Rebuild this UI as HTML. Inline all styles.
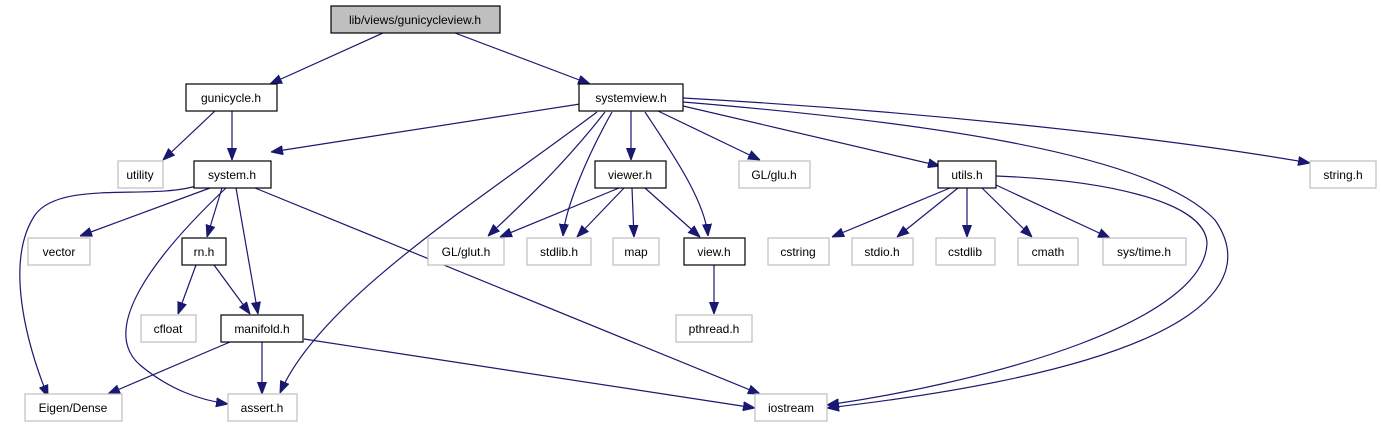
<!DOCTYPE html>
<html><head><meta charset="utf-8"><style>
html,body{margin:0;padding:0;background:#fff;}
svg{display:block;}
text{font-family:"Liberation Sans",Helvetica,sans-serif;font-size:12px;fill:#000;text-anchor:middle;}
.e{fill:none;stroke:#191970;stroke-width:1.2;}
.n{fill:#fff;stroke:#000;stroke-width:1.2;}
.g{fill:#fff;stroke:#bfbfbf;stroke-width:1.2;}
</style></head><body>
<svg width="1381" height="427" viewBox="0 0 1381 427" xmlns="http://www.w3.org/2000/svg">
<defs><marker id="a" viewBox="0 0 12 10" refX="12" refY="5" markerWidth="12" markerHeight="10" markerUnits="userSpaceOnUse" orient="auto"><path d="M0,0.5 L12,5 L0,9.5 z" fill="#191970" stroke="#191970"/></marker></defs>
<g class="e" marker-end="url(#a)">
<path d="M383,33 L270,84"/>
<path d="M455,33 L590,84"/>
<path d="M215,111 L163,160"/>
<path d="M232,111 L232,160"/>
<path d="M580,104 L271,152"/>
<path d="M597,112 C480,200 320,300 280,393"/>
<path d="M605,112 C560,170 510,215 488,236"/>
<path d="M612,112 C585,160 565,210 563,236"/>
<path d="M631,111 L631,160"/>
<path d="M645,112 C670,150 705,200 708,236"/>
<path d="M658,111 L760,160"/>
<path d="M683,106 L940,166"/>
<path d="M683,102 C900,120 1150,150 1215,220 C1250,270 1240,360 827,408"/>
<path d="M683,98 C900,110 1150,135 1310,163"/>
<path d="M196,186 C150,200 60,180 35,215 C5,260 25,340 48,397"/>
<path d="M210,188 L80,236"/>
<path d="M222,188 L207,237"/>
<path d="M236,188 L258,314"/>
<path d="M226,188 C150,260 100,330 140,365 C170,390 200,400 228,404"/>
<path d="M255,188 L760,394"/>
<path d="M196,265 L178,314"/>
<path d="M214,265 L250,314"/>
<path d="M230,342 L108,394"/>
<path d="M262,342 L262,394"/>
<path d="M304,339 L755,408"/>
<path d="M619,188 L500,237"/>
<path d="M624,188 L577,237"/>
<path d="M632,188 L634,237"/>
<path d="M645,188 L700,237"/>
<path d="M714,265 L714,314"/>
<path d="M950,188 L832,237"/>
<path d="M958,188 L897,237"/>
<path d="M967,188 L967,237"/>
<path d="M982,188 L1032,237"/>
<path d="M996,185 L1110,238"/>
<path d="M996,176 C1100,180 1205,200 1207,243 C1205,320 1000,380 827,405"/>
</g>
<rect x="331" y="6" width="169" height="27" fill="#bfbfbf" stroke="#000" stroke-width="1.2"/><text x="415" y="24">lib/views/gunicycleview.h</text>
<rect class="n" x="186" y="84" width="91" height="27"/><text x="231" y="102">gunicycle.h</text>
<rect class="n" x="579" y="84" width="104" height="27"/><text x="631" y="102">systemview.h</text>
<rect class="g" x="118" y="161" width="45" height="27"/><text x="140" y="179">utility</text>
<rect class="n" x="194" y="161" width="77" height="27"/><text x="232" y="179">system.h</text>
<rect class="n" x="595" y="161" width="71" height="27"/><text x="630" y="179">viewer.h</text>
<rect class="g" x="739" y="161" width="71" height="27"/><text x="774" y="179">GL/glu.h</text>
<rect class="n" x="938" y="161" width="58" height="27"/><text x="967" y="179">utils.h</text>
<rect class="g" x="1310" y="161" width="66" height="27"/><text x="1343" y="179">string.h</text>
<rect class="g" x="28" y="238" width="62" height="27"/><text x="59" y="256">vector</text>
<rect class="n" x="182" y="238" width="44" height="27"/><text x="204" y="256">rn.h</text>
<rect class="g" x="428" y="238" width="76" height="27"/><text x="466" y="256">GL/glut.h</text>
<rect class="g" x="527" y="238" width="64" height="27"/><text x="559" y="256">stdlib.h</text>
<rect class="g" x="613" y="238" width="46" height="27"/><text x="636" y="256">map</text>
<rect class="n" x="684" y="238" width="61" height="27"/><text x="714" y="256">view.h</text>
<rect class="g" x="768" y="238" width="61" height="27"/><text x="798" y="256">cstring</text>
<rect class="g" x="852" y="238" width="61" height="27"/><text x="882" y="256">stdio.h</text>
<rect class="g" x="936" y="238" width="59" height="27"/><text x="965" y="256">cstdlib</text>
<rect class="g" x="1018" y="238" width="60" height="27"/><text x="1048" y="256">cmath</text>
<rect class="g" x="1103" y="238" width="83" height="27"/><text x="1144" y="256">sys/time.h</text>
<rect class="g" x="141" y="315" width="55" height="27"/><text x="168" y="333">cfloat</text>
<rect class="n" x="221" y="315" width="82" height="27"/><text x="262" y="333">manifold.h</text>
<rect class="g" x="676" y="315" width="76" height="27"/><text x="714" y="333">pthread.h</text>
<rect class="g" x="25" y="394" width="97" height="27"/><text x="73" y="412">Eigen/Dense</text>
<rect class="g" x="228" y="394" width="69" height="27"/><text x="262" y="412">assert.h</text>
<rect class="g" x="755" y="394" width="72" height="27"/><text x="791" y="412">iostream</text>
</svg>
</body></html>
